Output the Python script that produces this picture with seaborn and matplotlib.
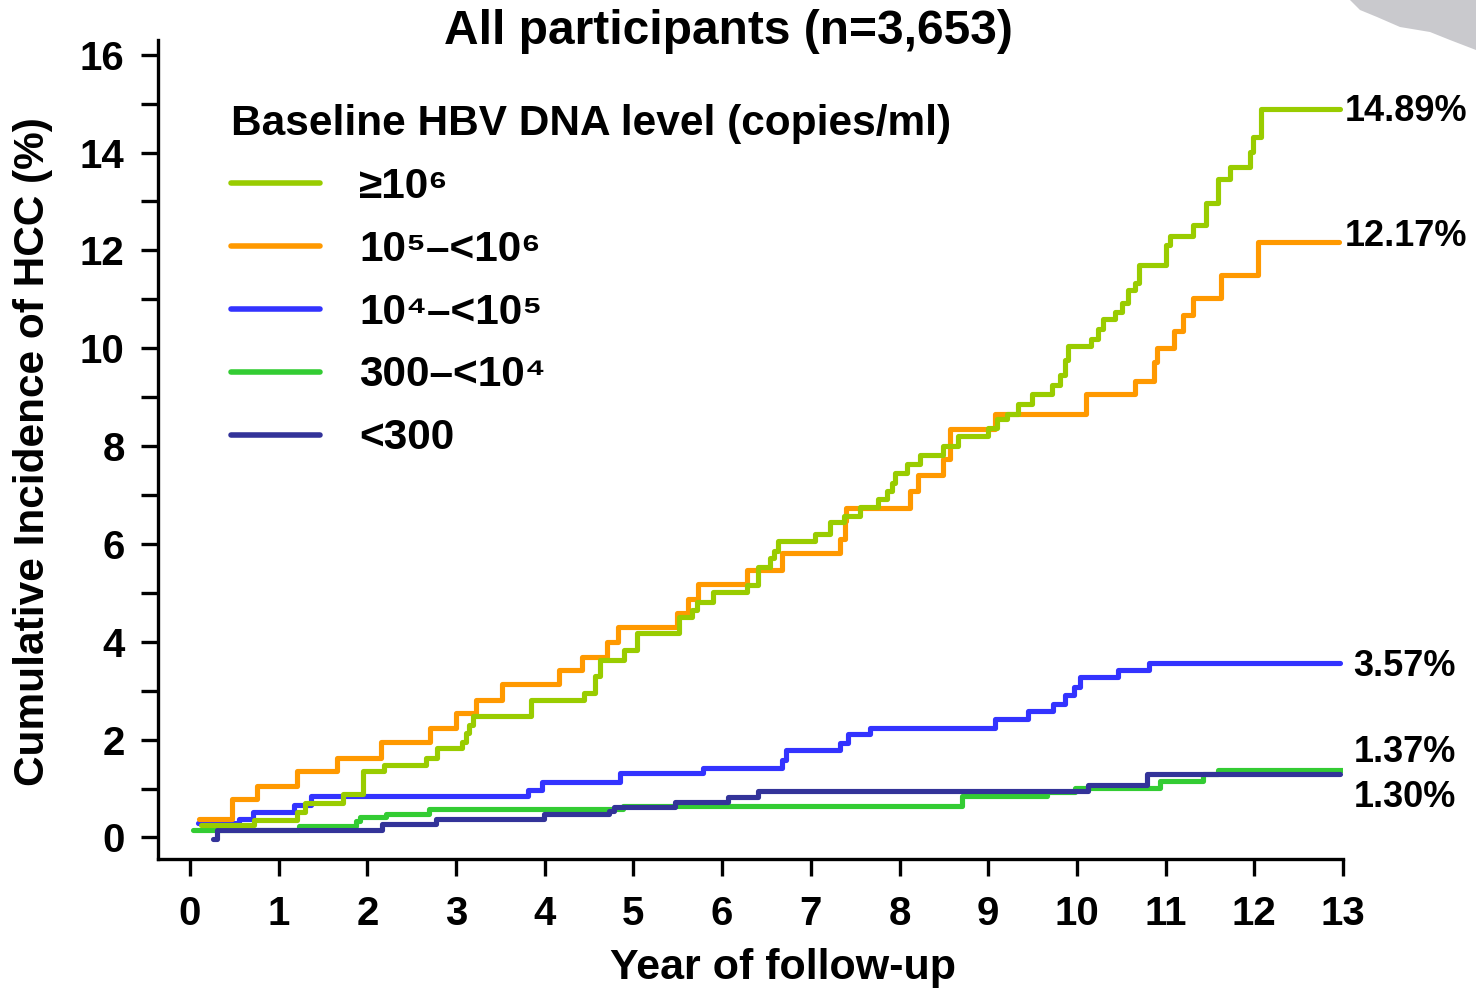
import numpy as np
import pandas as pd
import matplotlib
matplotlib.use("Agg")
import matplotlib.pyplot as plt
from matplotlib.lines import Line2D
from matplotlib.patches import Polygon
import seaborn as sns

# ---- data: Kaplan-Meier style cumulative incidence (%) by baseline HBV DNA ----
groups = ["≥10⁶", "10⁵–<10⁶", "10⁴–<10⁵", "300–<10⁴", "<300"]
colors = ["#99CC00", "#FF9900", "#3333FF", "#33CC33", "#333399"]
final_labels = ["14.89%", "12.17%", "3.57%", "1.37%", "1.30%"]

years_ge6 = [0.12, 0.72, 1.21, 1.30, 1.73, 1.95, 2.19, 2.66, 2.79, 3.07, 3.11, 3.15,
             3.19, 3.84, 4.44, 4.57, 4.62, 4.89, 5.04, 5.51, 5.66, 5.72, 5.90, 6.28,
             6.40, 6.54, 6.58, 6.63, 7.05, 7.22, 7.37, 7.56, 7.76, 7.86, 7.92, 7.95,
             8.08, 8.23, 8.49, 8.66, 9.00, 9.10, 9.21, 9.34, 9.49, 9.72, 9.81, 9.87,
             9.90, 10.16, 10.24, 10.29, 10.43, 10.51, 10.58, 10.65, 10.70, 11.01,
             11.05, 11.31, 11.45, 11.59, 11.73, 11.95, 11.99, 12.08, 12.97]
cum_ge6 = [0.26, 0.35, 0.53, 0.71, 0.88, 1.35, 1.49, 1.63, 1.83, 1.96, 2.14, 2.30,
           2.48, 2.81, 2.95, 3.30, 3.62, 3.83, 4.17, 4.50, 4.64, 4.81, 5.01, 5.17,
           5.52, 5.72, 5.86, 6.07, 6.21, 6.44, 6.58, 6.76, 6.92, 7.09, 7.25, 7.45,
           7.64, 7.82, 8.00, 8.21, 8.37, 8.55, 8.66, 8.86, 9.06, 9.25, 9.46, 9.75,
           10.05, 10.18, 10.40, 10.60, 10.75, 10.93, 11.18, 11.33, 11.71, 12.10,
           12.30, 12.52, 12.97, 13.45, 13.71, 14.01, 14.32, 14.89, 14.89]

years_5to6 = [0.10, 0.47, 0.76, 1.21, 1.66, 2.15, 2.71, 3.00, 3.23, 3.52, 4.16, 4.42,
              4.70, 4.83, 5.49, 5.62, 5.73, 6.28, 6.68, 7.33, 7.38, 7.40, 8.12, 8.21,
              8.49, 8.57, 9.08, 10.10, 10.65, 10.87, 10.90, 11.09, 11.20, 11.31,
              11.62, 12.04, 12.96]
cum_5to6 = [0.37, 0.79, 1.06, 1.36, 1.62, 1.96, 2.24, 2.54, 2.81, 3.14, 3.42, 3.69,
            4.00, 4.30, 4.58, 4.88, 5.19, 5.46, 5.82, 6.11, 6.47, 6.74, 7.09, 7.41,
            7.74, 8.35, 8.65, 9.06, 9.34, 9.71, 10.00, 10.35, 10.67, 11.02, 11.49,
            12.17, 12.17]

years_4to5 = [0.09, 0.55, 0.71, 1.17, 1.36, 3.81, 3.97, 4.85, 5.78, 6.68, 6.72, 7.33,
              7.42, 7.67, 9.08, 9.45, 9.73, 9.87, 9.97, 10.04, 10.46, 10.81, 12.97]
cum_4to5 = [0.30, 0.37, 0.52, 0.67, 0.84, 0.98, 1.14, 1.32, 1.43, 1.59, 1.79, 1.93,
            2.12, 2.24, 2.42, 2.59, 2.73, 2.92, 3.08, 3.27, 3.42, 3.57, 3.57]

years_300to4 = [0.03, 1.23, 1.87, 1.92, 2.21, 2.69, 4.88, 8.70, 9.66, 9.98, 10.94,
                11.42, 11.59, 13.00]
cum_300to4 = [0.16, 0.24, 0.33, 0.42, 0.49, 0.58, 0.65, 0.84, 0.92, 1.02, 1.16,
              1.29, 1.37, 1.37]

years_lt300 = [0.26, 0.31, 2.17, 2.77, 3.99, 4.72, 4.78, 5.47, 6.07, 6.41, 10.12,
               10.79, 12.97]
cum_lt300 = [-0.04, 0.16, 0.28, 0.38, 0.49, 0.55, 0.62, 0.72, 0.83, 0.96, 1.07,
             1.30, 1.30]

series = [(years_ge6, cum_ge6), (years_5to6, cum_5to6), (years_4to5, cum_4to5),
          (years_300to4, cum_300to4), (years_lt300, cum_lt300)]

frames = []
for g, (t, v) in zip(groups, series):
    frames.append(pd.DataFrame({"year": t, "incidence": v, "group": g}))
df = pd.concat(frames, ignore_index=True)

# ---- style ----
sns.set_style("ticks")
plt.rcParams["font.family"] = ["Liberation Sans", "DejaVu Sans"]
plt.rcParams["font.weight"] = "bold"
plt.rcParams["axes.labelweight"] = "bold"
for key in ("text.color", "axes.labelcolor", "xtick.color", "ytick.color",
            "xtick.labelcolor", "ytick.labelcolor", "axes.edgecolor"):
    plt.rcParams[key] = "black"

fig = plt.figure(figsize=(14.76, 9.9), dpi=100)
ax = fig.add_axes([158 / 1476, 1 - 859 / 990, 1185 / 1476, 819 / 990])

palette = dict(zip(groups, colors))
draw_order = ["300–<10⁴", "<300", "10⁴–<10⁵", "10⁵–<10⁶", "≥10⁶"]
sns.lineplot(data=df, x="year", y="incidence", hue="group", hue_order=draw_order,
             palette=palette, estimator=None, sort=False, drawstyle="steps-post",
             linewidth=3.7, legend=False, ax=ax)

ax.set_xlim(-0.36, 13.0)
ax.set_ylim(-0.44, 16.3)
ax.set_xticks(range(0, 14))
ax.set_yticks(range(0, 17, 2))
ax.set_yticks(range(1, 16, 2), minor=True)
for side in ("top", "right"):
    ax.spines[side].set_visible(False)
for side in ("left", "bottom"):
    ax.spines[side].set_linewidth(2.4)
    ax.spines[side].set_color("black")
ax.tick_params(axis="both", which="both", length=12, width=2.4, color="black",
               direction="out")
ax.tick_params(axis="both", which="major", labelsize=29, pad=12, labelcolor="black")
ax.tick_params(axis="x", pad=14)
for lab in ax.get_xticklabels() + ax.get_yticklabels():
    lab.set_fontweight("bold")

ax.set_xlabel("Year of follow-up", fontsize=31, fontweight="bold", va="center",
              color="black")
ax.xaxis.set_label_coords((783 - 158) / 1185, (859 - 968) / 819)
ax.set_ylabel("Cumulative Incidence of HCC (%)", fontsize=30.5, fontweight="bold",
              va="center", color="black")
ax.yaxis.set_label_coords((33 - 158) / 1185, (859 - 452) / 819)

fig.text(728.5 / 1476, 1 - 31 / 990, "All participants (n=3,653)", fontsize=34.5,
         fontweight="bold", ha="center", va="center", color="black")

# end-of-follow-up labels
label_pos = [(13.02, 14.83), (13.02, 12.28), (13.12, 3.50), (13.12, 1.74), (13.12, 0.81)]
for txt, (lx, ly) in zip(final_labels, label_pos):
    ax.text(lx, ly, txt, fontsize=26, fontweight="bold", ha="left", va="center",
            clip_on=False, color="black")

# legend
handles = [Line2D([], [], color=c, linewidth=4.0) for c in colors]
leg = ax.legend(handles, groups, title="Baseline HBV DNA level (copies/ml)",
                loc="upper left", bbox_to_anchor=(231 / 1476, 1 - 104 / 990),
                bbox_transform=fig.transFigure, frameon=False, borderpad=0,
                borderaxespad=0, handlelength=2.1, handletextpad=0.92,
                labelspacing=0.54, prop={"size": 30.5, "weight": "bold"},
                title_fontproperties={"size": 30.5, "weight": "bold"},
                alignment="left")
for t in leg.get_texts():
    t.set_color("black")
leg.get_title().set_color("black")

# grey corner shape
corner = [(1350, 0), (1356, 6), (1360, 10), (1377, 17), (1400, 27), (1430, 32),
          (1450, 40), (1476, 50), (1476, 0)]
fig.patches.append(Polygon([(x / 1476, 1 - y / 990) for x, y in corner], closed=True,
                           transform=fig.transFigure, facecolor="#c9c9cd",
                           edgecolor="none"))

fig.savefig("out.png", dpi=100)
